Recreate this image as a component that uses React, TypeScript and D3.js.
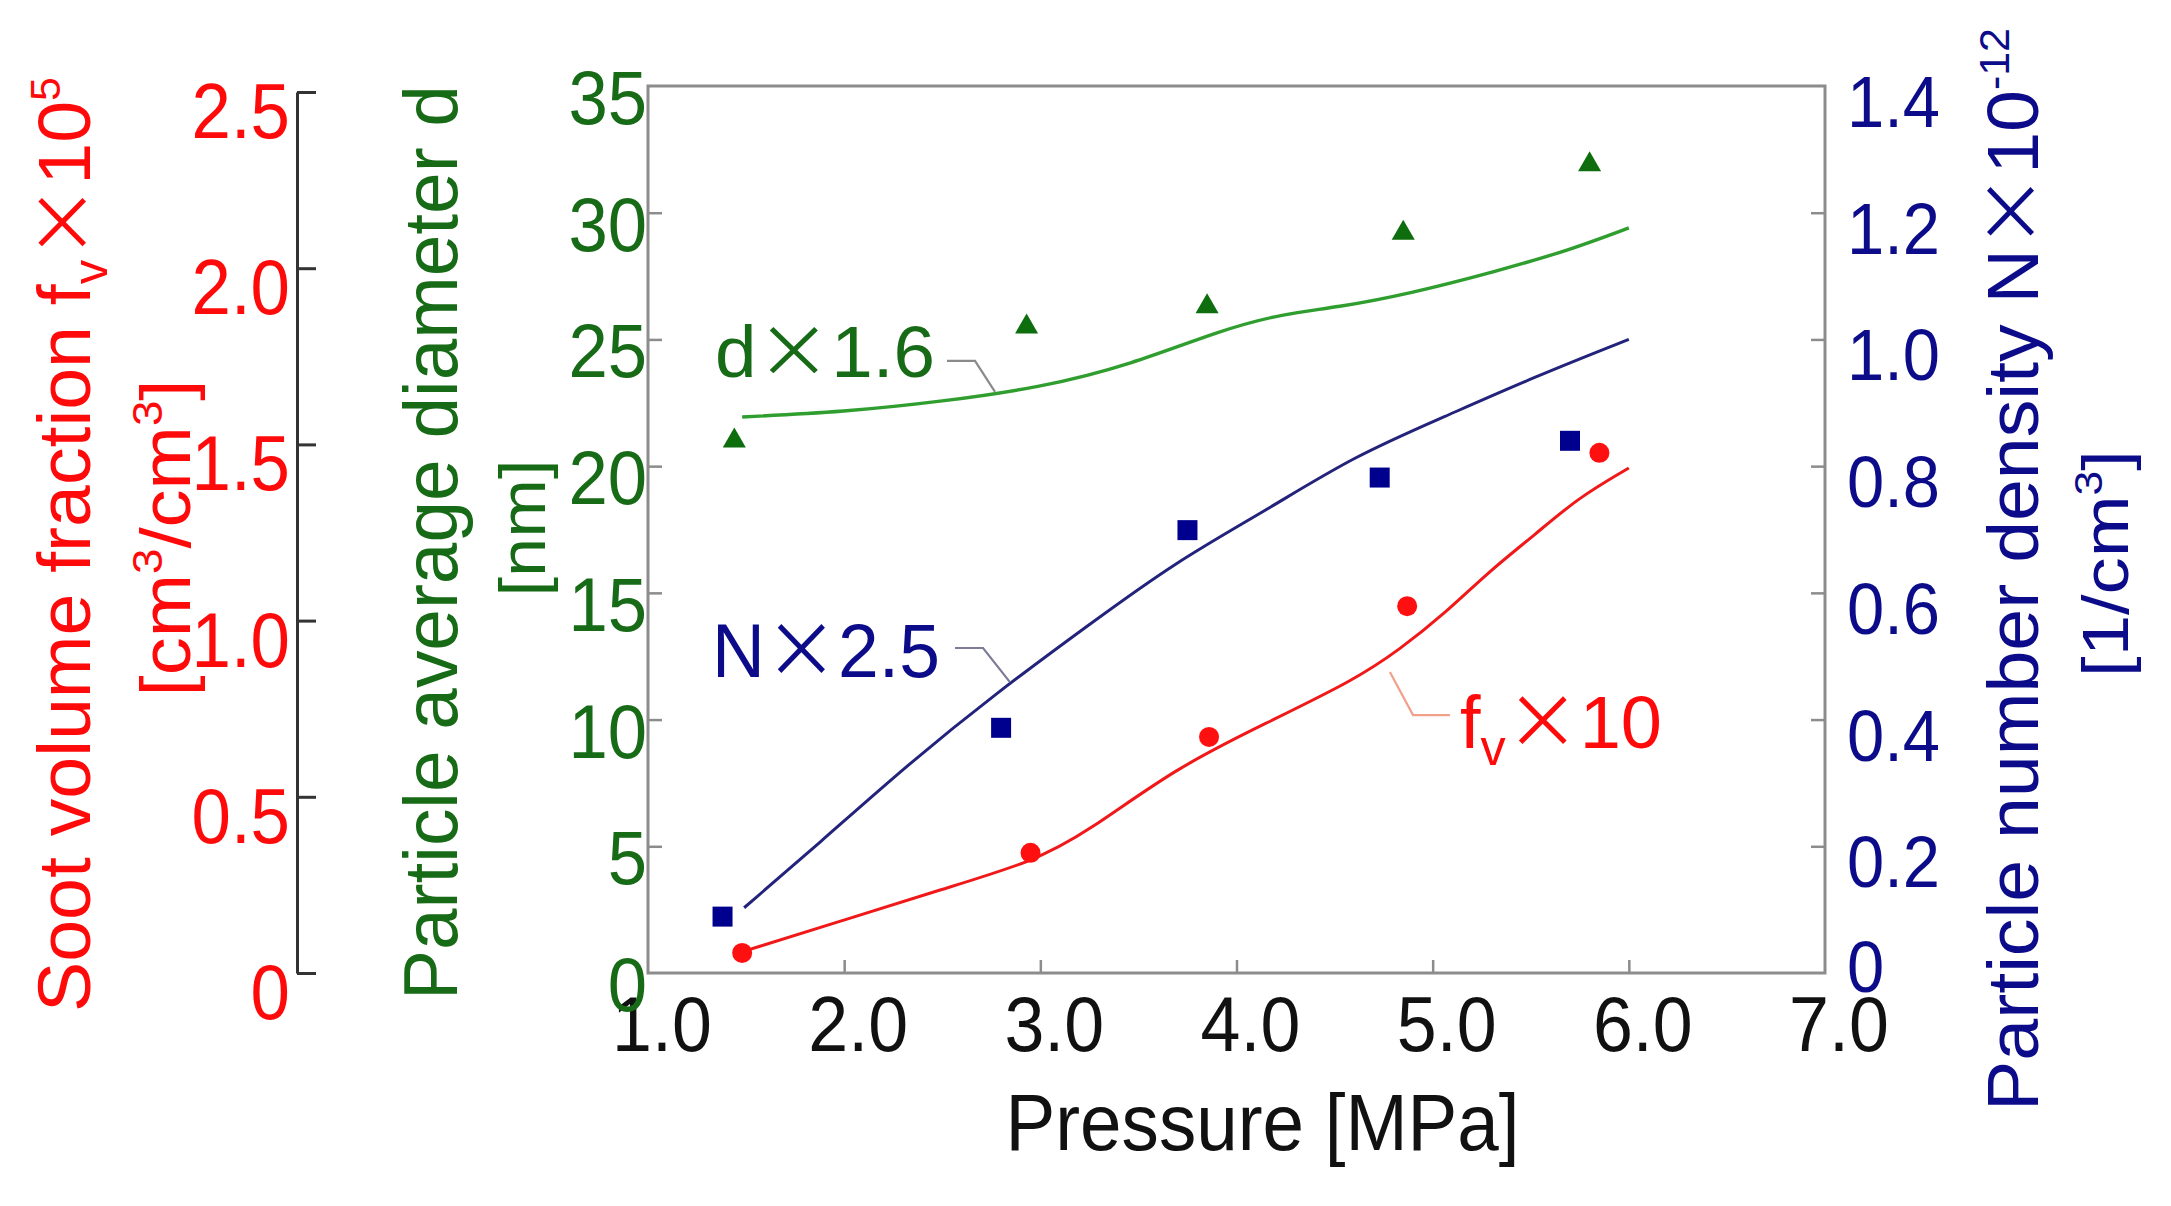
import { useEffect, useRef } from "react"
import * as d3 from "d3"

// axis ticks
const pressureTicks = [1, 2, 3, 4, 5, 6, 7]
const diameterTicks = [0, 5, 10, 15, 20, 25, 30, 35]
const densityTicks = [0, 0.2, 0.4, 0.6, 0.8, 1.0, 1.2, 1.4]
const fractionTicks = [0, 0.5, 1.0, 1.5, 2.0, 2.5]

// measured points (pressure in MPa)
const diamPress = [1.44, 2.93, 3.85, 4.85, 5.8]
const diamVals = [21.0, 25.5, 26.3, 29.2, 31.9] // d x 1.6 [nm]
const densPress = [1.38, 2.8, 3.75, 4.73, 5.7]
const densVals = [0.089, 0.387, 0.699, 0.782, 0.84] // N x 2.5
const fracPress = [1.48, 2.95, 3.86, 4.87, 5.85]
const fracVals = [0.057, 0.341, 0.67, 1.041, 1.476] // fv x 10

// calculated curves
const diamCurvePress = [1.48, 2.0, 2.5, 3.0, 3.46, 3.92, 4.24, 4.51, 4.88, 5.33, 5.7, 6.0]
const diamCurveVals = [21.94, 22.14, 22.55, 23.1, 24.0, 25.37, 26.02, 26.26, 26.8, 27.7, 28.53, 29.4]
const densCurvePress = [1.49, 1.87, 2.32, 2.78, 3.24, 3.69, 4.15, 4.6, 5.06, 5.52, 6.0]
const densCurveVals = [0.103, 0.204, 0.328, 0.443, 0.548, 0.649, 0.73, 0.816, 0.878, 0.941, 1.0]
const fracCurvePress = [1.49, 2.0, 2.5, 2.96, 3.24, 3.69, 4.15, 4.6, 4.83, 5.06, 5.29, 5.52, 5.74, 6.0]
const fracCurveVals = [0.062, 0.15, 0.238, 0.315, 0.4, 0.582, 0.709, 0.831, 0.917, 1.019, 1.141, 1.243, 1.348, 1.433]

// annotation leaders (data units)
const diamLeaderPress = [2.524, 2.667, 2.769]
const diamLeaderVals = [24.15, 24.15, 22.93]
const densLeaderPress = [2.565, 2.708, 2.845]
const densLeaderVals = [0.513, 0.513, 0.459]
const fracLeaderPress = [5.088, 4.9, 4.782]
const fracLeaderVals = [0.732, 0.732, 0.854]

const SANS = "'Liberation Sans', Arial, Helvetica, sans-serif"
const CJK = "'Noto Sans CJK JP', 'Noto Sans CJK SC', sans-serif"

const RED = "#ff0a0a"
const GREEN = "#176b17"
const BLUE = "#0c0c8a"

type Piece = { t: string; cjk?: boolean; shift?: number; size?: number }

function addRich(text: any, pieces: Piece[], fs: number) {
  let cur = 0
  pieces.forEach((p) => {
    const target = (p.shift || 0) * fs
    text
      .append("tspan")
      .attr("dy", target - cur)
      .attr("font-size", fs * (p.size || 1))
      .attr("font-family", p.cjk ? CJK : SANS)
      .text(p.t)
    cur = target
  })
}

// rotated label, stretched along its reading direction to a given length
function vLabel(svg: any, x: number, cy: number, length: number, fs: number, color: string, pieces: Piece[]) {
  const g = svg.append("g").attr("transform", `translate(${x},${cy}) rotate(-90)`)
  const t = g.append("text").attr("text-anchor", "middle").attr("fill", color).attr("font-size", fs)
  addRich(t, pieces, fs)
  const w = t.node().getBBox().width
  if (w > 0) t.attr("transform", `scale(${length / w},1)`)
}

function hText(svg: any, x: number, y: number, anchor: string, fs: number, color: string, pieces: Piece[], sx = 1, length = 0) {
  const g = svg.append("g").attr("transform", `translate(${x},${y})`)
  const t = g.append("text").attr("text-anchor", anchor).attr("fill", color).attr("font-size", fs)
  addRich(t, pieces, fs)
  let s = sx
  if (length > 0) {
    const w = t.node().getBBox().width
    if (w > 0) s = length / w
  }
  t.attr("transform", `scale(${s},1)`)
}

const fmt = (v: number) => (v === 0 ? "0" : d3.format(".1f")(v))

export default function App() {
  const svgRef = useRef<SVGSVGElement | null>(null)

  useEffect(() => {
    document.body.style.margin = "0"
    document.body.style.background = "#ffffff"

    const draw = () => {
      if (!svgRef.current) return
      const svg = d3.select(svgRef.current)
      svg.selectAll("*").remove()

      const x = d3.scaleLinear().domain([1, 7]).range([648, 1825])
      const yG = d3.scaleLinear().domain([0, 35]).range([973, 86])
      const yB = d3.scaleLinear().domain([0, 1.4]).range([973, 86])
      const yR = d3.scaleLinear().domain([0, 2.5]).range([973, 92])

      // tick marks (inward) via d3 axes
      const styleTicks = (g: any, color: string, w: number) => {
        g.select(".domain").remove()
        g.selectAll("line").attr("stroke", color).attr("stroke-width", w)
        g.selectAll("text").remove()
      }

      svg
        .append("g")
        .attr("transform", `translate(0,${yG(0)})`)
        .call(d3.axisBottom(x).tickValues(pressureTicks.slice(1, -1)).tickSize(-13).tickFormat(() => ""))
        .call((g: any) => styleTicks(g, "#8c8c8c", 2.5))

      svg
        .append("g")
        .attr("transform", `translate(${x(1)},0)`)
        .call(d3.axisLeft(yG).tickValues(diameterTicks.slice(1, -1)).tickSize(-14).tickFormat(() => ""))
        .call((g: any) => styleTicks(g, "#8c8c8c", 2.5))

      svg
        .append("g")
        .attr("transform", `translate(${x(7)},0)`)
        .call(d3.axisRight(yB).tickValues(densityTicks.slice(1, -1)).tickSize(-14).tickFormat(() => ""))
        .call((g: any) => styleTicks(g, "#8c8c8c", 2.5))

      // plot frame
      svg
        .append("rect")
        .attr("x", x(1))
        .attr("y", yG(35))
        .attr("width", x(7) - x(1))
        .attr("height", yG(0) - yG(35))
        .attr("fill", "none")
        .attr("stroke", "#8c8c8c")
        .attr("stroke-width", 3)

      // separate fv axis
      const redAxis = svg
        .append("g")
        .attr("transform", "translate(297,0)")
        .call(d3.axisRight(yR).tickValues(fractionTicks).tickSize(19).tickSizeOuter(0).tickFormat(() => ""))
      redAxis.select(".domain").attr("stroke", "#333").attr("stroke-width", 3)
      redAxis.selectAll("line").attr("stroke", "#333").attr("stroke-width", 3)

      // tick labels
      pressureTicks.forEach((v) =>
        hText(svg, x(v) + 14, 1051, "middle", 78, "#111", [{ t: d3.format(".1f")(v) }], 0.92),
      )
      diameterTicks.forEach((v) => hText(svg, x(1) - 1, yG(v) + 38, "end", 76, GREEN, [{ t: String(v) }], 0.93))
      densityTicks.forEach((v) =>
        hText(svg, x(7) + 22, yB(v) + (v === 0 ? 19 : 41), "start", 72, BLUE, [{ t: fmt(v) }], 0.93),
      )
      fractionTicks.forEach((v) => hText(svg, 290, yR(v) + 46, "end", 77, RED, [{ t: fmt(v) }], 0.92))

      // axis titles
      hText(svg, (x(1) + x(7)) / 2 + 26, 1150, "middle", 80, "#111", [{ t: "Pressure [MPa]" }], 1, 514)

      vLabel(svg, 90, 544.5, 935, 74, RED, [
        { t: "Soot volume fraction f" },
        { t: "v", shift: 0.23, size: 0.65 },
        { t: "×", cjk: true },
        { t: "10" },
        { t: "5", shift: -0.4, size: 0.57 },
      ])
      vLabel(svg, 190, 538, 317, 70, RED, [
        { t: "[cm" },
        { t: "3", shift: -0.4, size: 0.6 },
        { t: "/cm" },
        { t: "3", shift: -0.4, size: 0.6 },
        { t: "]" },
      ])
      vLabel(svg, 457, 542.5, 915, 76, GREEN, [{ t: "Particle average diameter d" }])
      vLabel(svg, 545, 528, 137, 64, GREEN, [{ t: "[nm]" }])
      vLabel(svg, 2038, 569.5, 1083, 73, BLUE, [
        { t: "Particle number density N" },
        { t: "×", cjk: true },
        { t: "10" },
        { t: "-12", shift: -0.4, size: 0.57 },
      ])
      vLabel(svg, 2128, 563.5, 227, 64, BLUE, [{ t: "[1/cm" }, { t: "3", shift: -0.4, size: 0.6 }, { t: "]" }])

      // curves
      const curve = (px: number[], vals: number[], ys: any) =>
        d3
          .line<number>()
          .x((_, i) => x(px[i]))
          .y((d) => ys(d))
          .curve(d3.curveBasis)(vals)

      svg.append("path").attr("d", curve(diamCurvePress, diamCurveVals, yG)).attr("fill", "none").attr("stroke", "#2f9e2f").attr("stroke-width", 3.4)
      svg.append("path").attr("d", curve(densCurvePress, densCurveVals, yB)).attr("fill", "none").attr("stroke", "#23237c").attr("stroke-width", 3)
      svg.append("path").attr("d", curve(fracCurvePress, fracCurveVals, yR)).attr("fill", "none").attr("stroke", "#f01818").attr("stroke-width", 3)

      // leaders
      const leader = (px: number[], vals: number[], ys: any, color: string) =>
        svg
          .append("path")
          .attr("d", d3.line<number>().x((_, i) => x(px[i])).y((d) => ys(d))(vals))
          .attr("fill", "none")
          .attr("stroke", color)
          .attr("stroke-width", 2.2)

      leader(diamLeaderPress, diamLeaderVals, yG, "#8a8a8a")
      leader(densLeaderPress, densLeaderVals, yB, "#7c7c98")
      leader(fracLeaderPress, fracLeaderVals, yR, "#f2a08a")

      // markers
      svg
        .selectAll(".tri")
        .data(diamVals)
        .enter()
        .append("path")
        .attr("transform", (d, i) => `translate(${x(diamPress[i])},${yG(d)})`)
        .attr("d", d3.symbol(d3.symbolTriangle, 230)())
        .attr("fill", "#0e6e0e")

      svg
        .selectAll(".sq")
        .data(densVals)
        .enter()
        .append("path")
        .attr("transform", (d, i) => `translate(${x(densPress[i])},${yB(d)})`)
        .attr("d", d3.symbol(d3.symbolSquare, 400)())
        .attr("fill", "#00008f")

      svg
        .selectAll(".dot")
        .data(fracVals)
        .enter()
        .append("circle")
        .attr("cx", (_, i) => x(fracPress[i]))
        .attr("cy", (d) => yR(d))
        .attr("r", 10)
        .attr("fill", "#ff1010")

      // series annotations
      hText(svg, x(1.342), yG(23.52), "start", 72, GREEN, [{ t: "d" }, { t: "×", cjk: true }, { t: "1.6" }], 1, 220)
      hText(svg, x(1.326), yB(0.467), "start", 76, BLUE, [{ t: "N" }, { t: "×", cjk: true }, { t: "2.5" }], 1, 228)
      hText(
        svg,
        x(5.139),
        yR(0.638),
        "start",
        74,
        RED,
        [{ t: "f" }, { t: "v", shift: 0.23, size: 0.68 }, { t: "×", cjk: true }, { t: "10" }],
        1,
        202,
      )
    }

    draw()
    if ((document as any).fonts?.ready) (document as any).fonts.ready.then(draw)
  }, [])

  return <svg ref={svgRef} width={2171} height={1206} style={{ display: "block", background: "#fff" }} />
}
